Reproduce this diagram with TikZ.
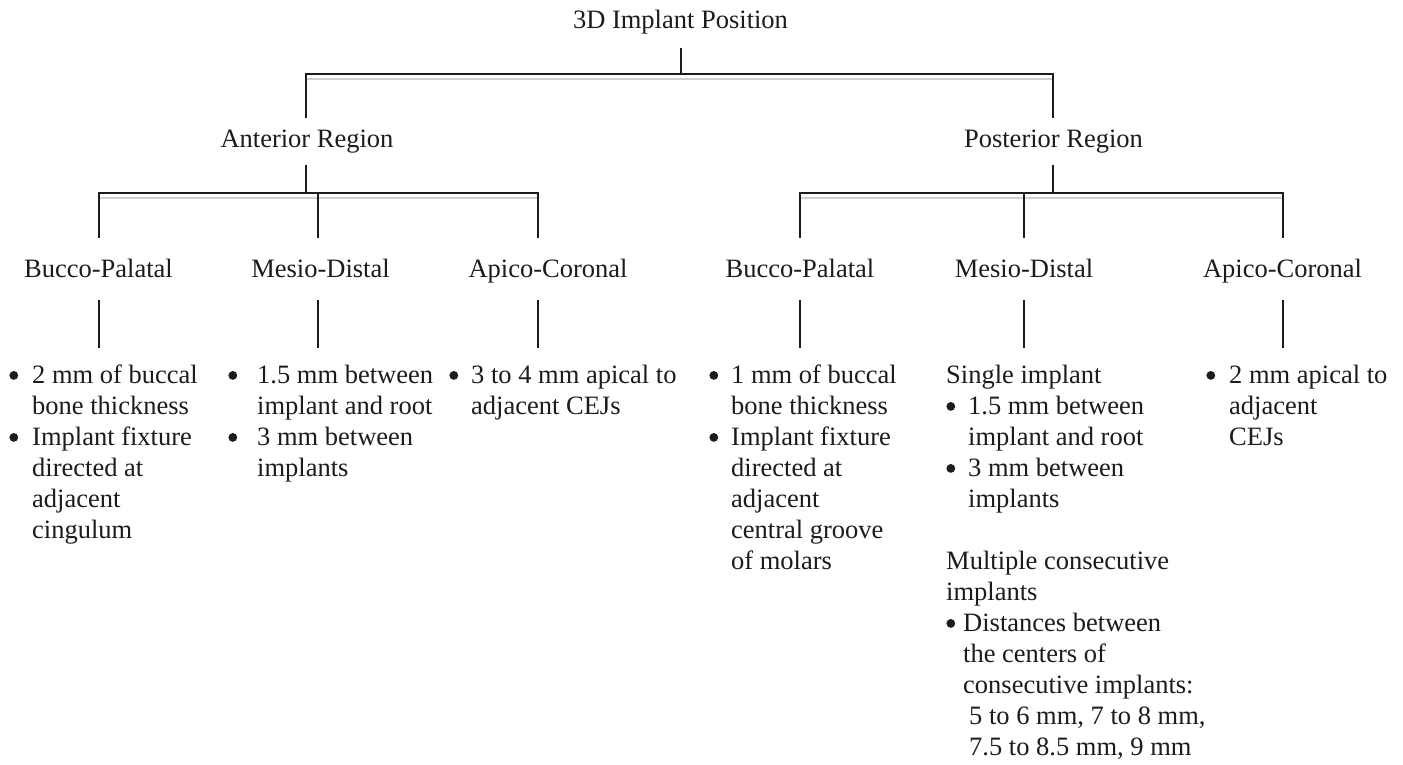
\documentclass[tikz,border=0pt]{standalone}
\usepackage{fontspec}
\setmainfont{Liberation Serif}
\definecolor{ink}{HTML}{1C1C1C}
\definecolor{shd}{HTML}{D0D0D0}
\newcommand\fs{\fontsize{26.5}{31}\selectfont}
\newcommand\bul{\tikz[baseline=0pt,overlay]\fill[ink] (4.6pt,7.6pt) circle[radius=4.4pt];}
\newcommand\itm[2]{\makebox[#1][l]{\bul}#2}
\newcommand\hng[1]{\hspace*{#1}}
\tikzset{
  lab/.style={inner sep=0pt, anchor=base, text=ink, font=\fs},
  blk/.style={inner sep=0pt, anchor=base west, text=ink, font=\fs},
  conn/.style={draw=ink, line width=1.8pt},
  shade/.style={draw=shd, line width=2pt},
}
\begin{document}
\begin{tikzpicture}[x=1pt,y=-1pt]
\useasboundingbox[fill=white] (0,0) rectangle (1403,764);

% labels
\node[lab] (root) at (680.5,28) {3D Implant Position};
\node[lab] (ant) at (307,147) {Anterior Region};
\node[lab] (post) at (1053.5,147) {Posterior Region};
\node[lab] (abp) at (98.5,277) {Bucco-Palatal};
\node[lab] (amd) at (320.5,277) {Mesio-Distal};
\node[lab] (aac) at (548,277) {Apico-Coronal};
\node[lab] (pbp) at (800,277) {Bucco-Palatal};
\node[lab] (pmd) at (1024,277) {Mesio-Distal};
\node[lab] (pac) at (1282.5,277) {Apico-Coronal};

% text blocks
\node[blk] (t1) at (9,383) {\begin{tabular}[t]{@{}l@{}}
\itm{23pt}{2 mm of buccal}\\ \hng{23pt}bone thickness\\
\itm{23pt}{Implant fixture}\\ \hng{23pt}directed at\\ \hng{23pt}adjacent\\ \hng{23pt}cingulum
\end{tabular}};
\node[blk] (t2) at (228,383) {\begin{tabular}[t]{@{}l@{}}
\itm{29pt}{1.5 mm between}\\ \hng{29pt}implant and root\\
\itm{29pt}{3 mm between}\\ \hng{29pt}implants
\end{tabular}};
\node[blk] (t3) at (449,383) {\begin{tabular}[t]{@{}l@{}}
\itm{22pt}{3 to 4 mm apical to}\\ \hng{22pt}adjacent CEJs
\end{tabular}};
\node[blk] (t4) at (709,383) {\begin{tabular}[t]{@{}l@{}}
\itm{22pt}{1 mm of buccal}\\ \hng{22pt}bone thickness\\
\itm{22pt}{Implant fixture}\\ \hng{22pt}directed at\\ \hng{22pt}adjacent\\
\hng{22pt}central groove\\ \hng{22pt}of molars
\end{tabular}};
\node[blk] (t5) at (946,383) {\begin{tabular}[t]{@{}l@{}}
Single implant\\
\itm{22pt}{1.5 mm between}\\ \hng{22pt}implant and root\\
\itm{22pt}{3 mm between}\\ \hng{22pt}implants\\
\\
Multiple consecutive\\ implants\\
\itm{17pt}{Distances between}\\ \hng{17pt}the centers of\\
\hng{17pt}consecutive implants:\\
\hng{23pt}5 to 6 mm, 7 to 8 mm,\\ \hng{23pt}7.5 to 8.5 mm, 9 mm
\end{tabular}};
\node[blk] (t6) at (1206,383) {\begin{tabular}[t]{@{}l@{}}
\itm{23pt}{2 mm apical to}\\ \hng{23pt}adjacent\\ \hng{23pt}CEJs
\end{tabular}};

% junction coordinates
\coordinate (r0) at (681,48);
\coordinate (r1) at (681,74);
\coordinate (bA) at (306,74);
\coordinate (bP) at (1053,74);
\coordinate (eA) at (306,118);
\coordinate (eP) at (1053,118);
\coordinate (sA) at (306,165);
\coordinate (jA) at (306,193);
\coordinate (sP) at (1053,165);
\coordinate (jP) at (1053,193);
\coordinate (l1) at (99,193);
\coordinate (l2) at (318,193);
\coordinate (l3) at (538,193);
\coordinate (r4) at (800,193);
\coordinate (r5) at (1024,193);
\coordinate (r6) at (1283,193);

% shadows of horizontal bars
\draw[shade] ([yshift=-5pt]bA) -- ([yshift=-5pt]bP);
\draw[shade] ([yshift=-5pt]l1) -- ([yshift=-5pt]l3);
\draw[shade] ([yshift=-5pt]r4) -- ([yshift=-5pt]r6);

% top level
\draw[conn] (r0) -- (r1);
\draw[conn] (eA) -- (bA) -- (bP) -- (eP);
% anterior
\draw[conn] (sA) -- (jA);
\draw[conn] ([yshift=-45pt]l1) -- (l1) -- (l3) -- ([yshift=-45pt]l3);
\draw[conn] (l2) -- ([yshift=-45pt]l2);
% posterior
\draw[conn] (sP) -- (jP);
\draw[conn] ([yshift=-45pt]r4) -- (r4) -- (r6) -- ([yshift=-45pt]r6);
\draw[conn] (r5) -- ([yshift=-45pt]r5);

% lower drops
\foreach \c in {l1,l2,l3,r4,r5,r6}{
  \draw[conn] ([yshift=-107pt]\c) -- ([yshift=-155pt]\c);
}
\end{tikzpicture}
\end{document}
